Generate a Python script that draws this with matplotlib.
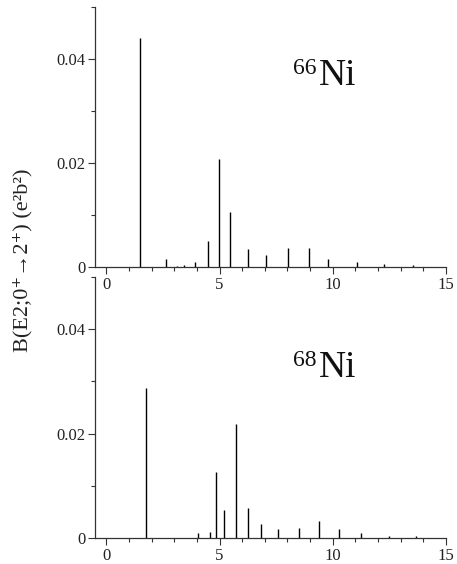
import matplotlib
matplotlib.use("Agg")
import matplotlib.pyplot as plt
from matplotlib.ticker import MultipleLocator, FixedLocator

# 66Ni strength distribution
e66 = [1.50, 2.63, 3.10, 3.44, 3.93, 4.47, 4.99, 5.47, 6.24, 7.07, 8.03, 8.93, 9.81, 11.07, 12.25, 13.56]
b66 = [0.0440, 0.0015, 0.0002, 0.0004, 0.0009, 0.0050, 0.0207, 0.0106, 0.0034, 0.0024, 0.0037, 0.0036, 0.0015, 0.0009, 0.0006, 0.0003]

# 68Ni strength distribution
e68 = [1.76, 4.04, 4.56, 4.84, 5.19, 5.71, 6.25, 6.85, 7.60, 8.53, 9.38, 10.29, 11.26, 12.47, 13.68]
b68 = [0.0288, 0.0010, 0.0012, 0.0127, 0.0054, 0.0218, 0.0058, 0.0026, 0.0018, 0.0019, 0.0033, 0.0017, 0.0009, 0.0004, 0.0003]

xticks = [0, 5, 10, 15]
yticks = [0, 0.02, 0.04]
ytick_labels = ["0", "0.02", "0.04"]
masses = ["66", "68"]
element = "Ni"
ylabel = "B(E2;0\u207a\u21922\u207a) (e\u00b2b\u00b2)"

plt.rcParams['font.family'] = ['Liberation Serif', 'DejaVu Serif']

W, H = 457, 564
fig = plt.figure(figsize=(W / 100, H / 100), dpi=100)

def make_ax(top_px, bot_px):
    left, right = 95, 446
    return fig.add_axes([left / W, 1 - bot_px / H, (right - left) / W, (bot_px - top_px) / H])

ax1 = make_ax(7, 267)
ax2 = make_ax(277, 538)
ax1.set_zorder(3)
ax1.patch.set_alpha(0)
ax2.patch.set_alpha(0)

col = '#333333'
for ax, e, b, m, ly in [(ax1, e66, b66, masses[0], 0.0350), (ax2, e68, b68, masses[1], 0.0308)]:
    ax.vlines(e, 0, b, color='black', lw=1.0)
    ax.set_xlim(-0.5, 15)
    ax.set_ylim(0, 0.05)
    for s in ['top', 'right']:
        ax.spines[s].set_visible(False)
    for s in ['left', 'bottom']:
        ax.spines[s].set_color(col)
        ax.spines[s].set_linewidth(0.9)
    ax.xaxis.set_major_locator(FixedLocator(xticks))
    ax.xaxis.set_minor_locator(MultipleLocator(1))
    ax.yaxis.set_major_locator(FixedLocator(yticks))
    ax.set_yticklabels(ytick_labels)
    ax.yaxis.set_minor_locator(FixedLocator([0.01, 0.03, 0.05]))
    ax.tick_params(axis='both', which='major', direction='out', length=5, width=0.8,
                   color=col, labelcolor='#222222', labelsize=12, pad=2)
    ax.tick_params(axis='both', which='minor', direction='out', length=3, width=0.8, color=col)
    ax.text(8.25, ly + 0.0022, m, fontsize=17, color='#111111', ha='left', va='baseline')
    ax.text(9.40, ly, element, fontsize=27, color='#111111', ha='left', va='baseline')

fig.text(23 / W, 1 - 260 / H, ylabel, rotation=90, ha='center', va='center',
         fontsize=16, color='#222222')

fig.savefig("out.png", dpi=100)
